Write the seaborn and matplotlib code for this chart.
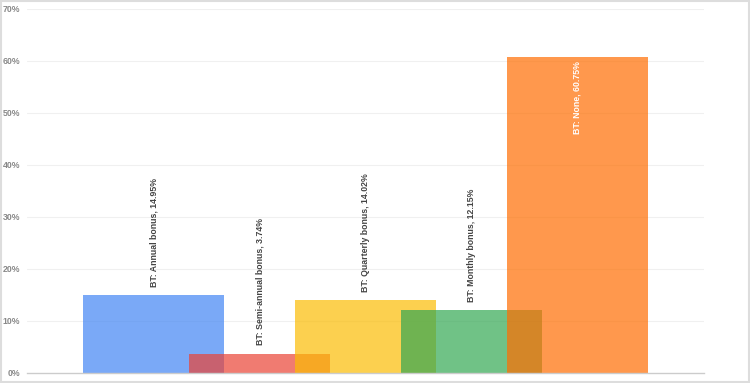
import matplotlib
matplotlib.use("Agg")
import matplotlib.pyplot as plt
import seaborn as sns
import pandas as pd
from matplotlib.patches import Rectangle

categories = ["BT: Annual bonus", "BT: Semi-annual bonus", "BT: Quarterly bonus",
              "BT: Monthly bonus", "BT: None"]
values = [14.95, 3.74, 14.02, 12.15, 60.75]
colors = ["#4285F4", "#EA4335", "#FBBC04", "#34A853", "#FF6D01"]
yticks = [0, 10, 20, 30, 40, 50, 60, 70]
ytick_labels = ["0%", "10%", "20%", "30%", "40%", "50%", "60%", "70%"]

df = pd.DataFrame({"cat": categories, "val": values})

sns.set_theme(style="white")
plt.rcParams['font.family'] = ['Liberation Sans', 'DejaVu Sans']

fig = plt.figure(figsize=(7.5, 3.83), dpi=100)
ax = fig.add_axes([27/750, 1 - 373/383, (704-27)/750, (373-9)/383])

sns.barplot(data=df, x="cat", y="val", hue="cat", order=categories,
            hue_order=categories, palette=colors, dodge=False, width=1.333,
            alpha=0.7, legend=False, ax=ax, linewidth=0, saturation=1)

ax.set_ylim(0, 70)
ax.set_xlim(-1.2, 5.2)
ax.set_yticks(yticks)
ax.set_yticklabels(ytick_labels, fontsize=6.3, color="#888888", fontweight="bold")
ax.set_xticks([])
ax.set_xlabel("")
ax.set_ylabel("")
ax.tick_params(axis="y", length=0, pad=5)
for y in yticks[1:]:
    ax.axhline(y, color="#f0f0f0", lw=0.8, zorder=0)
for s in ["top", "right", "left"]:
    ax.spines[s].set_visible(False)
ax.spines["bottom"].set_color("#cccccc")
ax.spines["bottom"].set_linewidth(1)

for i, (cat, v) in enumerate(zip(categories, values)):
    label = f"{cat}, {v:.2f}%"
    if v > 40:
        ax.text(i, v - 0.8, label, rotation=90, ha="center", va="top",
                fontsize=6.3, color="white", fontweight="bold")
    else:
        ax.text(i, v + 1.6, label, rotation=90, ha="center", va="bottom",
                fontsize=6.3, color="#444444", fontweight="bold")

fig.patches.append(Rectangle((0.001, 0.002), 0.997, 0.995, transform=fig.transFigure,
                             fill=False, edgecolor="#dddddd", lw=1.5))

fig.savefig("out.png", dpi=100)
